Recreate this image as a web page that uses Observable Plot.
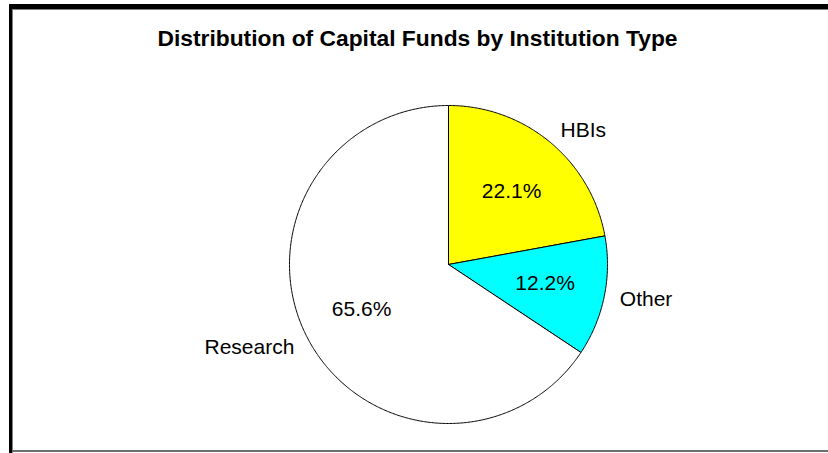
<!DOCTYPE html>
<html>
<head>
<meta charset="utf-8">
<script src="https://cdn.jsdelivr.net/npm/d3@7"></script>
<script src="https://cdn.jsdelivr.net/npm/@observablehq/plot@0.6"></script>
<style>
  html, body { margin: 0; padding: 0; background: #fff; }
  #wrap { position: relative; width: 828px; height: 453px; overflow: hidden; background: #fff; }
  #wrap svg { position: absolute; left: 0; top: 0; }
  .b { position: absolute; }
  #title { position: absolute; left: 0; width: 835px; top: 25px; text-align: center;
    font-family: "Liberation Sans", Arial, sans-serif;
    font-weight: bold; font-size: 22.8px; color: #000; }
</style>
</head>
<body>
<div id="wrap">
  <div id="chart"></div>
  <div id="title">Distribution of Capital Funds by Institution Type</div>
  <div class="b" style="left:9px;top:4px;right:0;height:5px;background:#000"></div>
  <div class="b" style="left:12px;top:9px;right:0;height:1px;background:#808080"></div>
  <div class="b" style="left:9px;top:4px;width:3px;bottom:0;background:#000"></div>
  <div class="b" style="left:12px;top:9px;width:1px;bottom:0;background:#808080"></div>
  <div class="b" style="left:12px;top:450px;right:0;height:2px;background:#6e6e6e"></div>
</div>
<script>
const categories = ["HBIs", "Other", "Research"];
const shares = [22.1, 12.2, 65.6];
const colors = ["#ffff00", "#00ffff", "#ffffff"];

// layout
const W = 828, H = 453, CX = 448, CY = 264, R = 159;

const total = d3.sum(shares);
let acc = 0;
const slices = categories.map((c, i) => {
  const a0 = acc / total * 2 * Math.PI;
  acc += shares[i];
  const a1 = acc / total * 2 * Math.PI;
  return {category: c, value: shares[i], color: colors[i], a0, a1, mid: (a0 + a1) / 2};
});

// polygon points for each slice (angle clockwise from 12 o'clock)
const pts = [];
for (const s of slices) {
  pts.push({category: s.category, color: s.color, x: 0, y: 0});
  const n = Math.max(2, Math.ceil((s.a1 - s.a0) / (Math.PI / 360)));
  for (let k = 0; k <= n; k++) {
    const a = s.a0 + (s.a1 - s.a0) * k / n;
    pts.push({category: s.category, color: s.color, x: Math.sin(a), y: Math.cos(a)});
  }
  pts.push({category: s.category, color: s.color, x: 0, y: 0});
}

const inner = slices.map(s => ({text: s.value.toFixed(1) + "%", x: 0.62 * Math.sin(s.mid), y: 0.6 * Math.cos(s.mid)}));
const outer = slices.map(s => ({text: s.category, side: Math.sin(s.mid) >= 0 ? "right" : "left", x: 1.1 * Math.sin(s.mid), y: 1.1 * Math.cos(s.mid)}));

const font = "'Liberation Sans', Arial, sans-serif";

const chart = Plot.plot({
  width: W, height: H,
  margin: 0,
  x: {domain: [-CX / R, (W - CX) / R], range: [0, W], axis: null},
  y: {domain: [-(H - CY) / R, CY / R], range: [H, 0], axis: null},
  color: {type: "identity"},
  style: {background: "transparent", fontFamily: font},
  marks: [
    Plot.line(pts, {x: "x", y: "y", z: "category", fill: "color", stroke: "#000", strokeWidth: 1, strokeLinejoin: "miter"}),
    Plot.text(inner, {x: "x", y: "y", text: "text", fontSize: 21, fill: "#000", fontFamily: font}),
    Plot.text(outer.filter(d => d.side === "right"), {x: "x", y: "y", text: "text", textAnchor: "start", fontSize: 21, fill: "#000", fontFamily: font}),
    Plot.text(outer.filter(d => d.side === "left"), {x: "x", y: "y", text: "text", textAnchor: "end", fontSize: 21, fill: "#000", fontFamily: font})
  ]
});
document.getElementById("chart").appendChild(chart);
</script>
</body>
</html>
